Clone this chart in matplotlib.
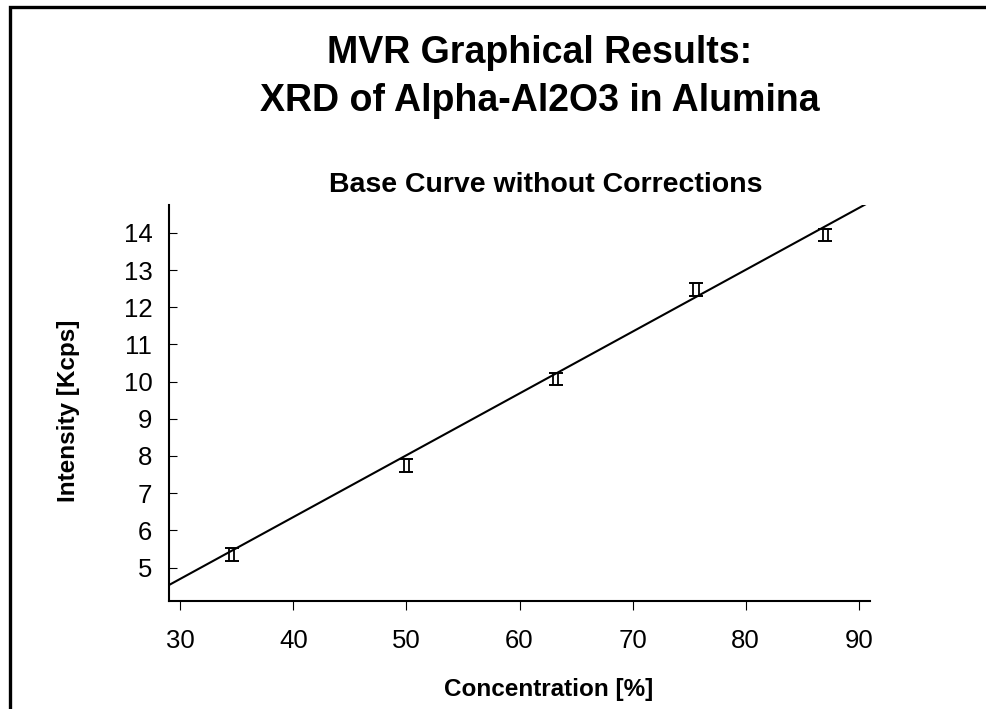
import numpy as np
import matplotlib.pyplot as plt
import matplotlib.transforms as mtransforms
from matplotlib.patches import Rectangle

plt.rcParams['font.family'] = ['Liberation Sans', 'DejaVu Sans']

# measured standards
conc = [34.55, 50.0, 63.2, 75.6, 87.05]
intensity = [5.35, 7.75, 10.07, 12.47, 13.94]
err = [0.18, 0.17, 0.16, 0.17, 0.16]

# base calibration line
slope = 0.1662
intercept = -0.29
line_x = [29, 91]

x_ticks = [30, 40, 50, 60, 70, 80, 90]
y_ticks = [5, 6, 7, 8, 9, 10, 11, 12, 13, 14]

fig = plt.figure(figsize=(9.87, 7.09), dpi=100)
ax = fig.add_axes([0.1712, 0.1523, 0.7103, 0.5586])

fig.patches.append(Rectangle((9.5 / 987, -0.05), 1.1, 0.9908 + 0.05,
                             transform=fig.transFigure, fill=False,
                             edgecolor='black', linewidth=2.4))

lx = np.array(line_x, dtype=float)
ax.plot(lx, slope * lx + intercept, color='black', lw=1.5)

# "II" shaped error markers: two thin bars with shared caps
left = mtransforms.offset_copy(ax.transData, fig=fig, x=-1.9, y=0, units='points')
right = mtransforms.offset_copy(ax.transData, fig=fig, x=1.9, y=0, units='points')
ax.errorbar(conc, intensity, yerr=err, fmt='none', ecolor='black',
            elinewidth=1.3, capsize=0, transform=left)
ax.errorbar(conc, intensity, yerr=err, fmt='none', ecolor='black',
            elinewidth=1.3, capsize=0, transform=right)
ax.errorbar(conc, intensity, yerr=err, fmt='none', ecolor='black',
            elinewidth=0, capsize=5, capthick=1.4)

ax.set_xlim(29, 91)
ax.set_ylim(4.1, 14.75)
ax.set_xticks(x_ticks)
ax.set_yticks(y_ticks)
ax.tick_params(axis='x', direction='out', length=6.5, width=0.8,
               labelsize=18.5, pad=14)
ax.tick_params(axis='y', direction='in', length=5.8, width=0.8,
               labelsize=18.5, pad=12)
for s in ['top', 'right']:
    ax.spines[s].set_visible(False)
for s in ['left', 'bottom']:
    ax.spines[s].set_linewidth(1.5)

fig.text(0.547, 0.925, 'MVR Graphical Results:', ha='center', va='center',
         fontsize=27, fontweight='bold')
fig.text(0.547, 0.857, 'XRD of Alpha-Al2O3 in Alumina', ha='center',
         va='center', fontsize=27, fontweight='bold')
fig.text(0.553, 0.739, 'Base Curve without Corrections', ha='center',
         va='center', fontsize=20.5, fontweight='bold')
fig.text(0.556, 0.027, 'Concentration [%]', ha='center', va='center',
         fontsize=17.5, fontweight='bold')
fig.text(0.069, 0.42, 'Intensity [Kcps]', ha='center', va='center',
         rotation=90, fontsize=17.5, fontweight='bold')

fig.savefig('out.png', dpi=100)
